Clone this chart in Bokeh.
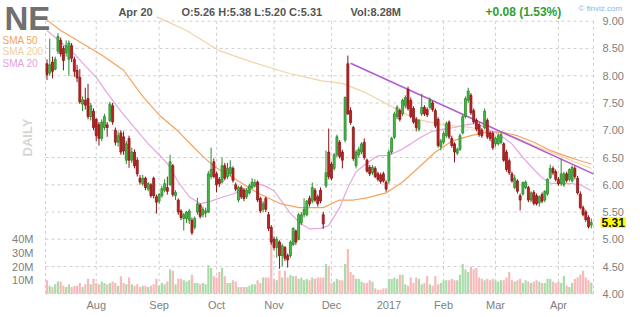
from bokeh.plotting import figure
from bokeh.models import ColumnDataSource, Range1d, Label
from bokeh.embed import file_html
from bokeh.resources import INLINE
from bokeh.core.properties import value
import math

# ---------------- data ----------------
bar_index = list(range(200))
opens = [8.22, 8.05, 8.25, 8.12, 8.45, 8.65, 8.50, 8.42, 8.30, 8.55,
         8.30, 8.10, 7.97, 7.48, 7.55, 7.58, 7.25, 7.35, 7.20, 7.10,
         6.85, 7.05, 7.10, 7.18, 7.45, 7.00, 6.78, 6.95, 6.88, 6.45,
         6.85, 6.45, 6.60, 6.45, 6.12, 6.02, 6.12, 5.92, 6.00, 6.12,
         5.78, 5.70, 5.80, 5.90, 5.95, 6.00, 6.35, 5.80, 5.72, 5.52,
         5.38, 5.38, 5.35, 5.35, 5.22, 5.50, 5.63, 5.45, 5.48, 5.50,
         6.15, 6.42, 6.20, 6.10, 6.05, 6.35, 6.15, 6.20, 6.30, 6.00,
         5.72, 5.95, 5.90, 5.78, 5.85, 5.95, 5.98, 6.05, 5.75, 5.55,
         5.75, 5.45, 5.22, 5.00, 4.85, 4.95, 4.70, 4.85, 4.70, 4.70,
         4.90, 5.15, 5.00, 5.30, 5.45, 5.45, 5.75, 5.70, 5.90, 5.78,
         5.90, 5.45, 5.98, 6.60, 6.38, 6.30, 6.55, 6.78, 6.60, 6.82,
         8.22, 7.36, 7.05, 6.35, 6.55, 6.60, 6.78, 6.45, 6.32, 6.22,
         6.30, 6.20, 6.18, 6.20, 6.05, 6.07, 6.60, 6.87, 7.25, 7.36,
         7.30, 7.45, 7.75, 7.55, 7.40, 7.20, 7.02, 7.30, 7.42, 7.38,
         7.42, 7.50, 7.36, 7.20, 6.70, 6.78, 6.90, 7.15, 6.85, 6.75,
         6.58, 6.65, 6.95, 7.25, 7.55, 7.64, 7.36, 7.18, 7.10, 7.00,
         7.05, 7.18, 6.95, 6.94, 6.75, 6.75, 6.78, 6.75, 6.60, 6.44,
         6.20, 5.95, 6.07, 5.80, 5.83, 5.95, 5.95, 5.72, 5.86, 5.80,
         5.67, 5.82, 5.72, 5.83, 6.13, 6.30, 6.24, 6.10, 6.02, 6.00,
         6.20, 6.10, 6.07, 6.30, 6.12, 5.83, 5.58, 5.50, 5.40, 5.26]
highs = [8.30, 8.68, 8.35, 8.35, 8.78, 8.70, 8.55, 8.65, 8.65, 8.60,
         8.35, 8.20, 8.12, 7.62, 7.78, 7.85, 7.50, 7.40, 7.22, 7.15,
         7.20, 7.30, 7.15, 7.52, 7.50, 7.05, 6.98, 7.00, 6.98, 6.80,
         6.90, 6.68, 6.65, 6.50, 6.18, 6.18, 6.15, 6.05, 6.03, 6.15,
         5.82, 5.85, 5.98, 6.10, 6.15, 6.55, 6.38, 5.90, 5.75, 5.55,
         5.48, 5.52, 5.56, 5.40, 5.42, 5.76, 5.66, 5.60, 5.58, 6.25,
         6.68, 6.48, 6.24, 6.14, 6.50, 6.40, 6.40, 6.45, 6.34, 6.04,
         5.98, 5.99, 5.94, 5.94, 6.02, 6.12, 6.10, 6.08, 5.78, 5.70,
         5.78, 5.50, 5.26, 5.05, 5.05, 4.98, 4.92, 4.88, 4.74, 4.98,
         5.22, 5.18, 5.48, 5.50, 5.75, 5.72, 5.80, 6.04, 5.94, 5.82,
         5.95, 5.50, 6.63, 7.03, 6.42, 6.58, 6.92, 6.82, 6.64, 7.62,
         8.37, 7.42, 7.08, 6.64, 6.70, 6.78, 6.85, 6.48, 6.36, 6.36,
         6.34, 6.24, 6.22, 6.24, 6.08, 6.64, 6.88, 7.34, 7.46, 7.40,
         7.58, 7.64, 7.80, 7.60, 7.44, 7.24, 7.20, 7.67, 7.46, 7.42,
         7.60, 7.54, 7.40, 7.24, 6.84, 6.98, 7.16, 7.18, 6.90, 6.78,
         6.68, 6.94, 7.28, 7.62, 7.78, 7.68, 7.40, 7.22, 7.14, 7.04,
         7.40, 7.22, 6.98, 6.98, 6.88, 6.94, 6.96, 6.78, 6.64, 6.48,
         6.24, 6.18, 6.10, 5.84, 6.06, 6.08, 5.98, 5.88, 5.90, 5.84,
         5.80, 5.86, 5.90, 6.12, 6.37, 6.34, 6.28, 6.14, 6.48, 6.24,
         6.24, 6.30, 6.35, 6.34, 6.16, 5.88, 5.62, 5.54, 5.44, 5.38]
lows = [7.92, 8.00, 7.95, 8.10, 8.40, 8.35, 8.10, 8.35, 8.00, 8.25,
        7.98, 7.88, 7.48, 7.35, 7.38, 7.20, 7.18, 7.00, 6.80, 6.72,
        6.80, 7.00, 6.88, 7.15, 7.10, 6.72, 6.70, 6.55, 6.55, 6.38,
        6.31, 6.40, 6.30, 6.15, 6.00, 5.98, 5.90, 5.88, 5.76, 5.75,
        5.47, 5.65, 5.76, 5.86, 5.82, 5.98, 5.78, 5.72, 5.45, 5.35,
        5.16, 5.30, 5.28, 5.08, 5.18, 5.45, 5.38, 5.40, 5.40, 5.48,
        6.10, 6.12, 5.86, 5.96, 6.02, 6.08, 6.10, 6.16, 6.04, 5.88,
        5.68, 5.74, 5.70, 5.74, 5.82, 5.92, 5.95, 5.68, 5.48, 5.50,
        5.50, 5.15, 4.90, 4.80, 4.66, 4.46, 4.50, 4.60, 4.48, 4.66,
        4.88, 4.90, 4.98, 5.26, 5.40, 5.42, 5.60, 5.66, 5.68, 5.60,
        5.66, 5.19, 5.94, 6.10, 6.08, 6.26, 6.50, 6.48, 6.30, 6.78,
        7.28, 7.10, 6.44, 6.30, 6.50, 6.56, 6.46, 6.22, 6.16, 6.18,
        6.12, 6.06, 6.02, 6.04, 5.87, 6.02, 6.56, 6.84, 7.20, 7.16,
        7.26, 7.40, 7.36, 7.22, 7.12, 6.98, 6.98, 7.26, 7.26, 7.24,
        7.38, 7.34, 7.04, 6.68, 6.63, 6.74, 6.86, 6.84, 6.68, 6.41,
        6.54, 6.62, 6.92, 7.22, 7.50, 7.28, 7.12, 6.98, 6.88, 6.86,
        7.02, 6.84, 6.80, 6.64, 6.70, 6.72, 6.74, 6.42, 6.24, 6.18,
        6.04, 5.92, 5.84, 5.53, 5.80, 5.92, 5.68, 5.68, 5.62, 5.62,
        5.60, 5.66, 5.68, 5.80, 6.10, 6.18, 6.06, 5.98, 5.98, 5.96,
        6.04, 6.06, 6.04, 6.10, 5.82, 5.55, 5.42, 5.32, 5.20, 5.20]
closes = [8.02, 8.20, 8.08, 8.30, 8.72, 8.40, 8.28, 8.55, 8.60, 8.32,
          8.08, 7.96, 7.52, 7.56, 7.46, 7.25, 7.45, 7.05, 6.90, 6.85,
          7.15, 7.25, 7.05, 7.48, 7.15, 6.78, 6.90, 6.60, 6.62, 6.75,
          6.45, 6.60, 6.35, 6.20, 6.05, 6.12, 5.95, 6.02, 5.80, 5.80,
          5.68, 5.82, 5.93, 6.02, 5.88, 6.42, 5.82, 5.86, 5.50, 5.40,
          5.45, 5.50, 5.52, 5.12, 5.38, 5.65, 5.42, 5.55, 5.52, 6.20,
          6.28, 6.15, 6.00, 6.02, 6.35, 6.12, 6.30, 6.32, 6.08, 5.92,
          5.95, 5.78, 5.75, 5.90, 5.98, 6.05, 6.04, 5.72, 5.52, 5.65,
          5.55, 5.20, 4.95, 4.85, 5.00, 4.70, 4.88, 4.65, 4.62, 4.95,
          5.20, 4.95, 5.45, 5.45, 5.55, 5.70, 5.65, 5.95, 5.72, 5.65,
          5.70, 5.28, 6.22, 6.15, 6.12, 6.55, 6.88, 6.52, 6.45, 7.60,
          7.30, 7.14, 6.48, 6.60, 6.65, 6.75, 6.50, 6.25, 6.20, 6.32,
          6.15, 6.10, 6.06, 6.07, 5.92, 6.60, 6.85, 7.30, 7.42, 7.20,
          7.55, 7.60, 7.40, 7.25, 7.15, 7.05, 7.18, 7.42, 7.30, 7.28,
          7.55, 7.38, 7.08, 6.72, 6.80, 6.94, 7.12, 6.88, 6.72, 6.60,
          6.65, 6.90, 7.25, 7.58, 7.72, 7.32, 7.15, 7.02, 6.92, 6.90,
          7.35, 6.88, 6.85, 6.68, 6.85, 6.90, 6.92, 6.45, 6.28, 6.22,
          6.07, 6.12, 5.88, 5.72, 6.04, 6.05, 5.72, 5.85, 5.66, 5.65,
          5.78, 5.70, 5.88, 6.10, 6.30, 6.22, 6.10, 6.02, 6.20, 6.20,
          6.08, 6.28, 6.32, 6.15, 5.85, 5.58, 5.45, 5.36, 5.23, 5.31]
volume_m = [10, 6, 5, 7, 9, 9, 6, 5, 7, 5,
            6, 6, 8, 5, 7, 11, 7, 11, 8, 7,
            9, 8, 7, 8, 9, 8, 6, 13, 8, 7,
            12, 7, 6, 7, 5, 6, 6, 5, 6, 7,
            11, 6, 8, 7, 9, 18, 17, 7, 11, 11,
            10, 9, 10, 14, 8, 8, 7, 8, 7, 21,
            19, 13, 12, 16, 19, 13, 8, 8, 10, 9,
            5, 5, 5, 5, 6, 7, 7, 10, 8, 12,
            12, 12, 43, 11, 10, 17, 12, 17, 12, 14,
            13, 13, 11, 12, 10, 11, 10, 12, 11, 12,
            12, 12, 22, 20, 8, 9, 11, 10, 10, 22,
            33, 16, 14, 11, 11, 9, 8, 8, 10, 9,
            4, 3, 3, 4, 4, 11, 11, 12, 11, 14,
            14, 7, 6, 12, 8, 12, 11, 7, 8, 13,
            7, 6, 13, 7, 8, 10, 10, 10, 11, 10,
            10, 14, 22, 18, 16, 20, 18, 19, 12, 11,
            10, 11, 10, 11, 10, 9, 10, 10, 12, 16,
            10, 9, 10, 11, 8, 10, 9, 8, 9, 10,
            9, 8, 8, 11, 11, 9, 8, 9, 8, 13,
            6, 5, 8, 11, 12, 14, 17, 12, 10, 8.28]

sma20_x = [0, 5, 10, 14, 18, 22, 27, 32, 37, 41, 44, 48, 52, 56, 60, 64, 68, 73, 77, 80,
           83, 86, 89, 93, 96, 100, 103, 107, 110, 113, 117, 121, 125, 129, 133, 137, 141,
           145, 149, 153, 156, 159, 162, 166, 170, 174, 178, 181, 184, 188, 192, 195, 199]
sma20_y = [8.83, 8.62, 8.40, 8.18, 7.97, 7.68, 7.35, 7.05, 6.75, 6.55, 6.39, 6.05, 5.78,
           5.65, 5.70, 5.77, 5.83, 5.93, 6.02, 5.97, 5.89, 5.68, 5.47, 5.28, 5.19, 5.20,
           5.25, 5.58, 5.95, 6.24, 6.40, 6.53, 6.54, 6.63, 6.75, 6.88, 6.98, 7.02, 7.05,
           7.10, 7.12, 7.08, 7.00, 6.90, 6.75, 6.50, 6.28, 6.13, 6.03, 6.02, 6.02, 6.00, 5.89]
sma50_x = [0, 5, 13, 20, 28, 35, 41, 48, 53, 57, 61, 68, 77, 85, 92, 101, 107, 112, 117,
           124, 130, 136, 142, 148, 155, 160, 166, 172, 178, 184, 190, 195, 199]
sma50_y = [9.02, 8.83, 8.59, 8.38, 8.10, 7.62, 7.28, 6.98, 6.72, 6.52, 6.34, 6.13, 5.85,
           5.66, 5.58, 5.58, 5.72, 5.72, 5.76, 5.85, 6.05, 6.32, 6.60, 6.80, 6.90, 6.96,
           6.97, 6.90, 6.78, 6.63, 6.52, 6.44, 6.38]
sma200_x = [40, 45, 51, 63, 75, 88, 100, 108, 116, 124, 131, 137, 145, 155, 160, 166, 172,
            178, 184, 190, 195, 199]
sma200_y = [9.08, 8.97, 8.83, 8.46, 8.25, 8.05, 7.91, 7.86, 7.70, 7.49, 7.30, 7.18, 7.10,
            7.05, 7.00, 6.95, 6.85, 6.72, 6.60, 6.48, 6.38, 6.30]
trend_x = [111, 199.8]
trend_y = [8.23, 6.20]

month_ticks = [18, 41, 62, 83, 104, 125, 145, 164, 187]
month_labels = ["Aug", "Sep", "Oct", "Nov", "Dec", "2017", "Feb", "Mar", "Apr"]
price_ticks = [4.0, 4.5, 5.0, 5.5, 6.0, 6.5, 7.0, 7.5, 8.0, 8.5, 9.0]
price_labels = ["4.00", "4.50", "5.00", "5.50", "6.00", "6.50", "7.00", "7.50", "8.00",
                "8.50", "9.00"]
vol_ticks = [10, 20, 30, 40]
vol_labels = ["10M", "20M", "30M", "40M"]
last_close = 5.31

# ---------------- layout / scales ----------------
W, H = 640, 317
PX_PER_BAR = 2.735          # horizontal pixels per trading day
PX_PER_DOLLAR = 54.52       # vertical pixels per 1.00 of price
X0_PX = 46.5                # pixel position of first bar
Y9_PX = 20.7                # pixel position of price 9.00
VOL_PX_PER_M = 1 / 0.7366   # pixels per 1M shares
VOL0_PX = 293.3             # pixel position of zero volume

x_start = -X0_PX / PX_PER_BAR
x_end = x_start + W / PX_PER_BAR
y_end = 9 + Y9_PX / PX_PER_DOLLAR
y_start = y_end - H / PX_PER_DOLLAR
v_start = -(H - VOL0_PX) / VOL_PX_PER_M
v_end = v_start + H / VOL_PX_PER_M


def px_to_x(px):
    return x_start + px / PX_PER_BAR


def px_to_price(py):
    return y_end - py / PX_PER_DOLLAR


FONT = "Liberation Sans"
UP_FILL, UP_LINE = "#49b849", "#2a8a2a"
DN_FILL, DN_LINE = "#c02424", "#8a1414"
VOL_UP, VOL_DN = "#a9dca9", "#f7b9b9"
GRID = "#cfcfcf"
AXIS_TXT = "#808080"

up = [c >= o for o, c in zip(opens, closes)]
src = ColumnDataSource(dict(
    x=bar_index,
    high=highs, low=lows,
    top=[max(o, c) for o, c in zip(opens, closes)],
    bottom=[min(o, c) for o, c in zip(opens, closes)],
    fill=[UP_FILL if u else DN_FILL for u in up],
    line=[UP_LINE if u else DN_LINE for u in up],
    vol=volume_m,
    vcol=[VOL_UP if u else VOL_DN for u in up],
))

p = figure(width=W, height=H, output_backend="svg", toolbar_location=None,
           x_range=Range1d(x_start, x_end), y_range=Range1d(y_start, y_end),
           x_axis_location=None, y_axis_location=None, min_border=0)
p.grid.visible = False
p.outline_line_color = None
p.background_fill_color = "white"
p.border_fill_color = "white"
p.extra_y_ranges = {"vol": Range1d(v_start, v_end)}

# chart area edges
area_left = px_to_x(45)
area_right = px_to_x(593)

# grid lines (dashed)
p.segment(x0=[area_left] * len(price_ticks), x1=[area_right] * len(price_ticks),
          y0=price_ticks, y1=price_ticks, line_color=GRID, line_dash="3 3", line_width=1)
vx = [area_left] + month_ticks + [area_right]
p.segment(x0=vx, x1=vx, y0=[price_ticks[0]] * len(vx), y1=[price_ticks[-1]] * len(vx),
          line_color=GRID, line_dash="3 3", line_width=1)

# volume
p.vbar(x="x", width=0.8, top="vol", bottom=0, source=src, y_range_name="vol",
       fill_color="vcol", line_color=None)

# moving averages and trend line
p.line(sma200_x, sma200_y, line_color="#f3d3a6", line_width=1.2)
p.line(sma50_x, sma50_y, line_color="#f5a35c", line_width=1.2)
p.line(sma20_x, sma20_y, line_color="#e6a6e2", line_width=1.2)
p.line(trend_x, trend_y, line_color="#b25ccf", line_width=1.6)

# candles
p.segment(x0="x", y0="low", x1="x", y1="high", source=src, line_color="line", line_width=1)
p.vbar(x="x", width=0.72, top="top", bottom="bottom", source=src,
       fill_color="fill", line_color="line", line_width=0.8)

# ---------------- tick labels ----------------
p.text(x=[px_to_x(602)] * len(price_ticks), y=price_ticks, text=price_labels,
       text_font=value(FONT), text_font_size="11px", text_color=AXIS_TXT,
       text_align="left", text_baseline="middle")
p.text(x=month_ticks, y=[px_to_price(304)] * len(month_ticks), text=month_labels,
       text_font=value(FONT), text_font_size="11px", text_color=AXIS_TXT,
       text_align="center", text_baseline="middle")
p.text(x=[px_to_x(33)] * len(vol_ticks), y=vol_ticks, text=vol_labels, y_range_name="vol",
       text_font=value(FONT), text_font_size="11px", text_color=AXIS_TXT,
       text_align="right", text_baseline="middle")

# ---------------- other texts ----------------


def lab(x, y, text, **kw):
    opts = dict(x=x, y=H - y, x_units="screen", y_units="screen",
                text=text, text_font=FONT, text_baseline="middle")
    opts.update(kw)
    p.add_layout(Label(**opts))


lab(4, 18, "NE", text_font="Liberation Sans Narrow, Liberation Sans", text_font_size="33px",
    text_font_style="bold", text_color="#707070")
lab(27, 137, "DAILY", angle=math.pi / 2, text_align="center", text_font_size="13px",
    text_font_style="bold", text_color="#d6d6d6")
lab(2, 40, "SMA 50", text_font_size="10px", text_color="#f5a35c")
lab(2, 51, "SMA 200", text_font_size="10px", text_color="#f0cfa0")
lab(2, 63, "SMA 20", text_font_size="10px", text_color="#e3a2df")
lab(135, 11, "Apr 20", text_align="center", text_font_size="11px", text_font_style="bold",
    text_color="#555555")
lab(181, 11, "O:5.26  H:5.38  L:5.20  C:5.31", text_font_size="11px",
    text_font_style="bold", text_color="#555555")
lab(350, 11, "Vol:8.28M", text_font_size="11px", text_font_style="bold",
    text_color="#555555")
lab(485, 11, "+0.08 (1.53%)", text_font_size="12px", text_font_style="bold",
    text_color="#2f9e2f")
lab(578, 8, "\u00a9 finviz.com", text_font_size="8px", text_color="#8db3e0")

p.add_layout(Label(x=600, y=last_close, x_units="screen", y_units="data",
                   text="5.31", text_font=FONT, text_font_size="12px", text_font_style="bold",
                   text_color="#111111", text_baseline="middle",
                   background_fill_color="#ffff00", padding=1))

open("out.html", "w").write(file_html(p, INLINE))
